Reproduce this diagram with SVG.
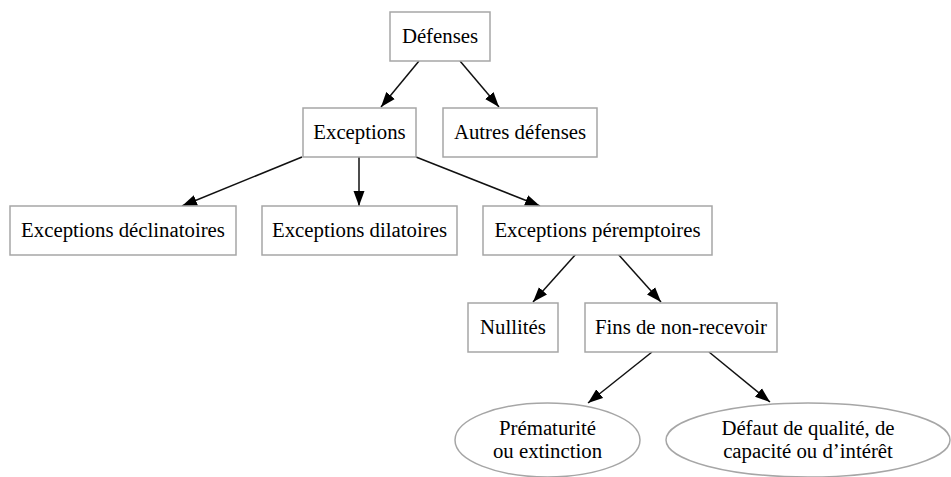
<svg xmlns="http://www.w3.org/2000/svg" width="951" height="477" viewBox="0 0 951 477">
<defs>
<style>
.n{fill:#fff;stroke:#a6a6a6;stroke-width:1.5}
.t{font-family:"Liberation Serif","Times New Roman",serif;font-size:20.8px;fill:#000;text-anchor:middle}
.e{stroke:#111;stroke-width:1.5;fill:none;marker-end:url(#a)}
</style>
<marker id="a" markerUnits="userSpaceOnUse" markerWidth="16" markerHeight="12" refX="15" refY="6" orient="auto" viewBox="0 0 16 12">
<path d="M0,0.5 L15,6 L0,11.5 Z" fill="#000"/>
</marker>
</defs>
<rect width="951" height="477" fill="#fff"/>
<g id="edges">
<line class="e" x1="419" y1="61" x2="381" y2="107"/>
<line class="e" x1="460" y1="61" x2="499" y2="107"/>
<line class="e" x1="302" y1="157" x2="182" y2="206"/>
<line class="e" x1="359" y1="157" x2="359" y2="206"/>
<line class="e" x1="416" y1="157" x2="540" y2="206"/>
<line class="e" x1="576" y1="254" x2="533" y2="302"/>
<line class="e" x1="618" y1="254" x2="661" y2="302"/>
<line class="e" x1="652" y1="352" x2="588" y2="403"/>
<line class="e" x1="709" y1="352" x2="770" y2="402"/>
</g>
<g id="defenses"><rect class="n" x="390" y="12" width="100" height="49"/><text class="t" x="440" y="43">Défenses</text></g>
<g id="exceptions"><rect class="n" x="303" y="108" width="113" height="49"/><text class="t" x="359.5" y="139">Exceptions</text></g>
<g id="autres"><rect class="n" x="443" y="108" width="154" height="49"/><text class="t" x="520" y="139">Autres défenses</text></g>
<g id="declinatoires"><rect class="n" x="10" y="206" width="226" height="49"/><text class="t" x="123" y="237">Exceptions déclinatoires</text></g>
<g id="dilatoires"><rect class="n" x="262" y="206" width="195" height="49"/><text class="t" x="359.5" y="237">Exceptions dilatoires</text></g>
<g id="peremptoires"><rect class="n" x="483" y="206" width="229" height="49"/><text class="t" x="597.5" y="237">Exceptions péremptoires</text></g>
<g id="nullites"><rect class="n" x="468" y="303" width="90" height="49"/><text class="t" x="513" y="334">Nullités</text></g>
<g id="fins"><rect class="n" x="585" y="303" width="192" height="49"/><text class="t" x="681" y="334">Fins de non-recevoir</text></g>
<g id="prematurite"><ellipse class="n" cx="547.5" cy="440" rx="92.5" ry="37"/><text class="t" x="547.5" y="435">Prématurité</text><text class="t" x="547.5" y="458">ou extinction</text></g>
<g id="defaut"><ellipse class="n" cx="808" cy="440" rx="142" ry="37"/><text class="t" x="808" y="435">Défaut de qualité, de</text><text class="t" x="808" y="458">capacité ou d’intérêt</text></g>
</svg>
